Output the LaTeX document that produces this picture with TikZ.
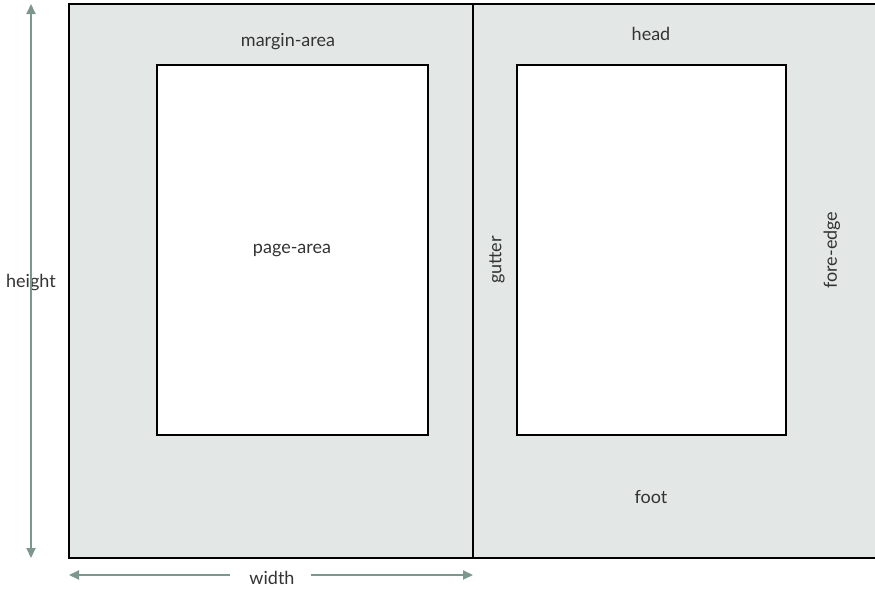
\documentclass[tikz,border=0pt]{standalone}
\usepackage{fontspec}
\setmainfont{Lato}
\usetikzlibrary{arrows.meta}
\definecolor{sheet}{HTML}{E3E8E6}
\definecolor{dim}{HTML}{7C978C}
\definecolor{txt}{HTML}{333333}
\tikzset{
  pagebox/.style={draw=black,line width=1.6pt,fill=sheet},
  areabox/.style={draw=black,line width=1.6pt,fill=white},
  lbl/.style={text=txt,font=\fontsize{18}{21}\selectfont,inner sep=0pt},
  dimline/.style={draw=dim,line width=1.8pt,-{Triangle[width=9pt,length=10pt]}}
}
\begin{document}
\begin{tikzpicture}[x=1pt,y=-1pt]
\useasboundingbox (0,0) rectangle (875,589);
\begin{scope}
\clip (0,0) rectangle (875,589);
\path[pagebox] (69,4) rectangle (885,558);
\draw[black,line width=1.6pt] (473,4) -- (473,558);
\end{scope}
\path[areabox] (157,65) rectangle (428,435);
\path[areabox] (517,65) rectangle (786,435);
\node[lbl] (margin) at (288,42) {margin-area};
\node[lbl] (pagearea) at (292,250) {page-area};
\node[lbl] (head) at (651,34) {head};
\node[lbl] (foot) at (651,497) {foot};
\node[lbl,rotate=90] (gutter) at (497,260) {gutter};
\node[lbl,rotate=90] (fore) at (832,250) {fore-edge};
\node[lbl] (height) at (31,283) {height};
\node[lbl] (width) at (272,578) {width};
\coordinate (htop) at (31,4);
\coordinate (hbot) at (31,558);
\coordinate (wl) at (69,575);
\coordinate (wr) at (473,575);
\draw[dimline] ([yshift=-18pt]height.center) -- (htop);
\draw[dimline] ([yshift=18pt]height.center) -- (hbot);
\draw[dimline] ([xshift=-42pt]width.center |- wl) -- (wl);
\draw[dimline] ([xshift=39pt]width.center |- wr) -- (wr);
\end{tikzpicture}
\end{document}
